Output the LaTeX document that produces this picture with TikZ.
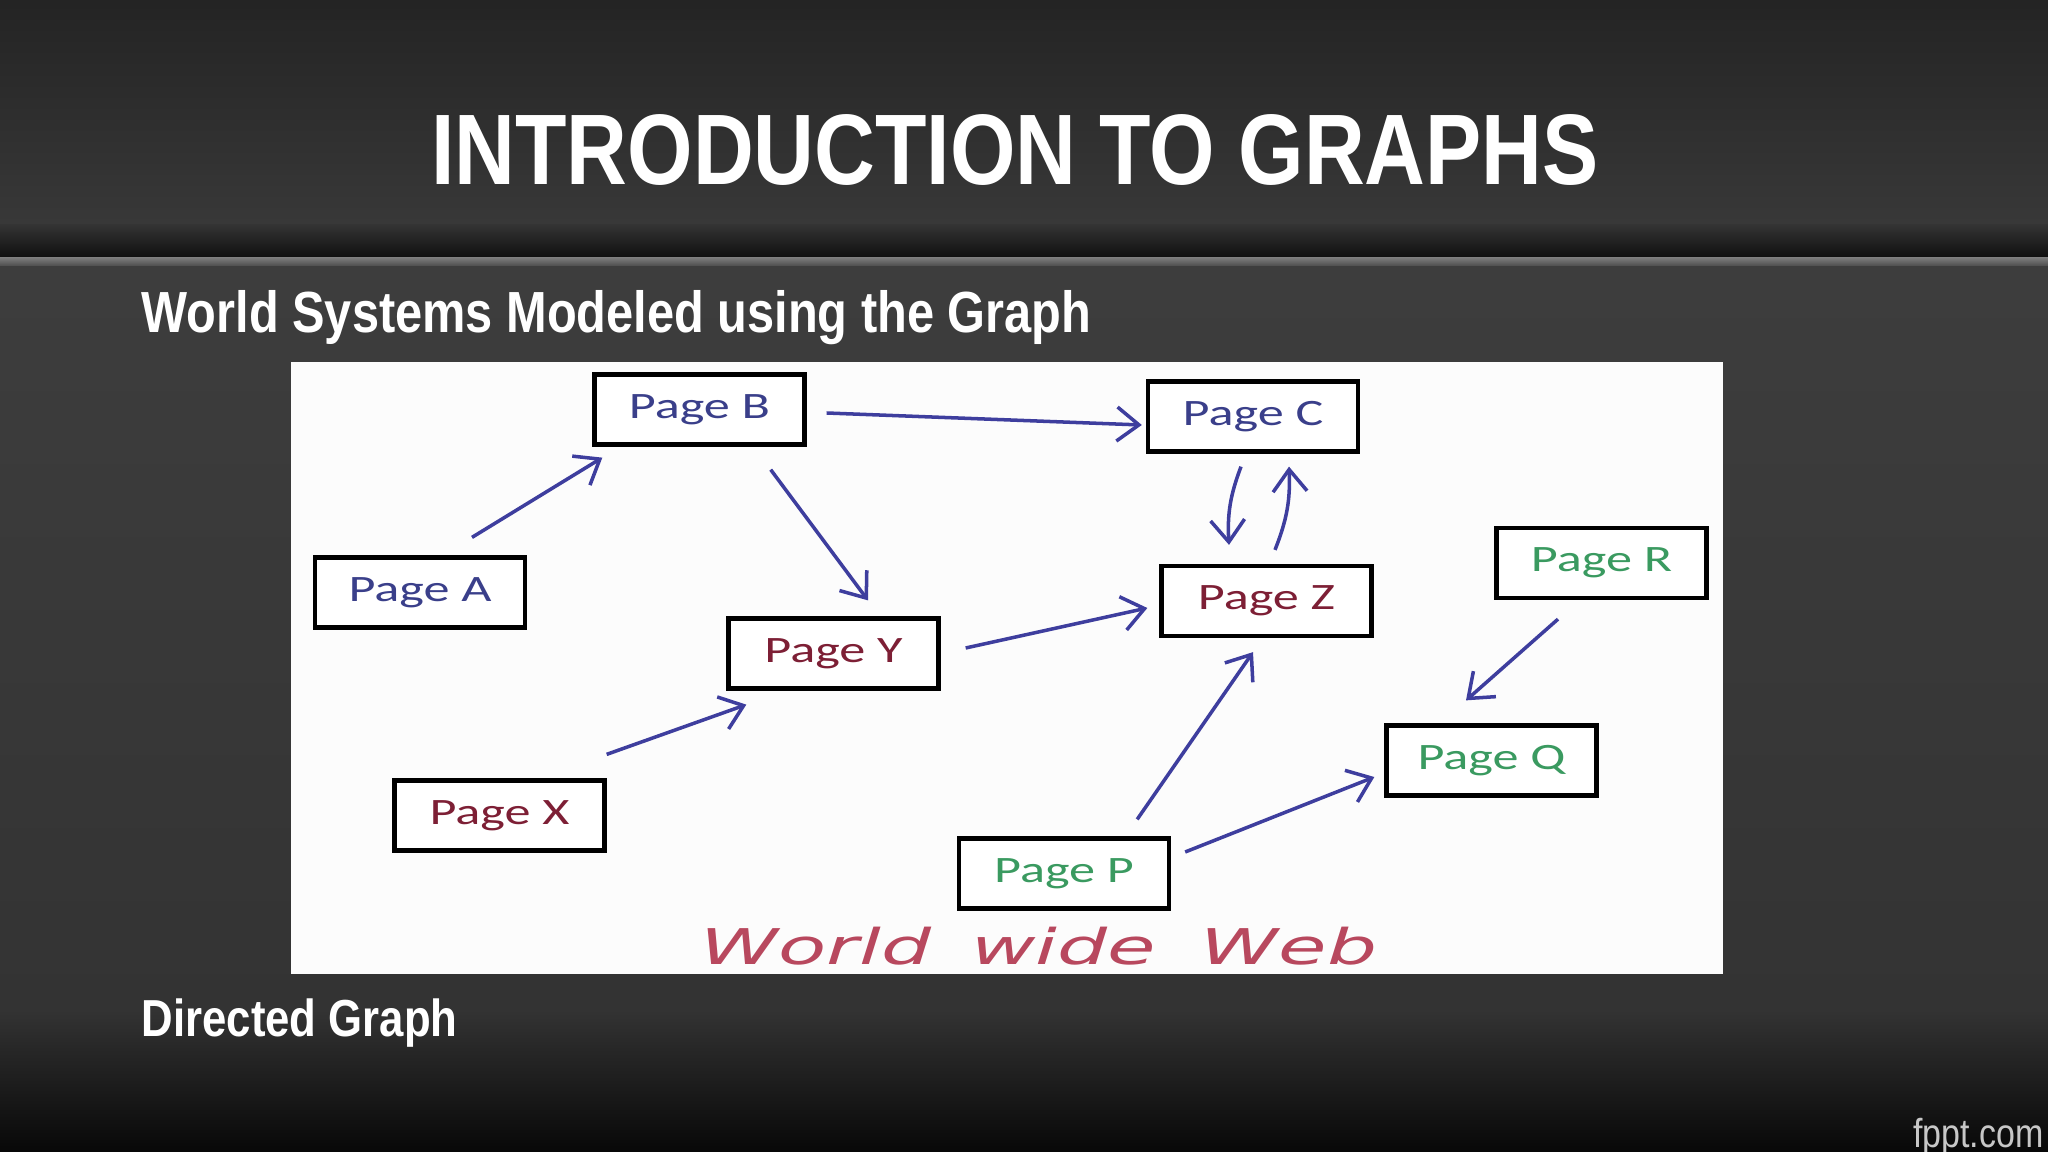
\documentclass[tikz,border=0pt]{standalone}
\usepackage{fontspec}
\usetikzlibrary{arrows.meta,calc}

\newfontfamily\slidefont[FakeStretch=0.84]{Liberation Sans}
\newfontfamily\boxfont[FakeStretch=1.4]{Carlito}
\newfontfamily\handfont[FakeStretch=1.6]{DejaVu Sans}

\definecolor{linkblue}{RGB}{62,62,158}
\definecolor{pageblue}{RGB}{58,63,138}
\definecolor{pagered}{RGB}{125,31,53}
\definecolor{pagegreen}{RGB}{58,154,96}
\definecolor{webpink}{RGB}{184,72,94}

\tikzset{
    page/.style={draw=black, line width=1.2pt, fill=white, inner sep=0pt,
        minimum width=2.1cm, minimum height=0.7cm,
        font=\boxfont\fontsize{10.6}{12}\selectfont},
    link/.style={draw=linkblue, line width=1pt,
        -{Straight Barb[length=2.2mm,width=3.4mm]}},
    slidetext/.style={text=white, inner sep=0pt, font=\slidefont\bfseries}
}

\begin{document}
\begin{tikzpicture}[x=0.01cm, y=-0.01cm]

    % Picture measured in pixels of the 2048 x 1152 slide
    \useasboundingbox (0,0) rectangle (2048,1152);

    % 1. Slide background
    \shade[top color=black!86, bottom color=black!78] (0,0) rectangle (2048,225);
    \shade[top color=black!80, bottom color=black!94] (0,225) rectangle (2048,258);
    \shade[top color=black!52, bottom color=black!72] (0,258) rectangle (2048,267);
    \shade[top color=black!76, bottom color=black!80] (0,267) rectangle (2048,1010);
    \shade[top color=black!80, bottom color=black!97] (0,1010) rectangle (2048,1152);

    % 2. Slide texts
    \node[slidetext, anchor=base, font=\slidefont\bfseries\fontsize{28.5}{30}\selectfont]
        (title) at (1015,185) {INTRODUCTION TO GRAPHS};
    \node[slidetext, anchor=base west, font=\slidefont\bfseries\fontsize{16.5}{18}\selectfont]
        (subtitle) at (141,333) {World Systems Modeled using the Graph};
    \node[slidetext, anchor=base west, font=\slidefont\bfseries\fontsize{14.8}{17}\selectfont]
        (caption) at (141,1036) {Directed Graph};
    \node[anchor=base east, inner sep=0pt, text=black!22, font=\slidefont\fontsize{11.5}{13}\selectfont]
        (fppt) at (2044,1147) {fppt.com};

    % 3. White panel holding the web graph
    \fill[white!99!black] (291,362) rectangle (1723,974);

    % 4. The pages
    \node[page, text=pageblue]  (A) at (420,592.5)   {Page A};
    \node[page, text=pageblue]  (B) at (699.5,409.5) {Page B};
    \node[page, text=pageblue]  (C) at (1253,416.5)  {Page C};
    \node[page, text=pagered]   (Y) at (833.5,653.5) {Page Y};
    \node[page, text=pagered]   (Z) at (1266.5,601)  {Page Z};
    \node[page, text=pagered]   (X) at (499.5,815.5) {Page X};
    \node[page, text=pagegreen] (R) at (1601.5,563)  {Page R};
    \node[page, text=pagegreen] (Q) at (1491.5,760.5) {Page Q};
    \node[page, text=pagegreen] (P) at (1064,873.5)  {Page P};

    % 5. Links between pages (offsets in pixels from the box anchors)
    \draw[link] ($(A.north)+(52,-18)$) -- ($(B.south west)+(10,11)$);
    \draw[link] ($(B.east)+(20,3.5)$) -- ($(C.west)+(-4,8.5)$);
    \draw[link] ($(B.south east)+(-36,23)$) -- ($(Y.north)+(34.5,-16)$);
    \draw[link] ($(C.south)+(-12,13)$) to[bend right=12] ($(Z.north)+(-37.5,-19)$);
    \draw[link] ($(Z.north)+(8.5,-14)$) to[bend right=12] ($(C.south)+(36,13)$);
    \draw[link] ($(Y.east)+(25,-5.5)$) -- ($(Z.west)+(-12,7)$);
    \draw[link] ($(X.north east)+(0,-24)$) -- ($(Y.south west)+(20,14)$);
    \draw[link] ($(P.north east)+(-34,-17)$) -- ($(Z.south)+(-13.5,14)$);
    \draw[link] ($(P.east)+(14,-21.5)$) -- ($(Q.west)+(-10,16.5)$);
    \draw[link] ($(R.south)+(-43.5,19)$) -- ($(Q.north)+(-25.5,-23)$);

    % 6. Hand written name under the graph
    \node[anchor=base west, inner sep=0pt, text=webpink,
        font=\handfont\itshape\fontsize{14}{16}\selectfont]
        (web) at (700,964) {World\hspace{4mm}wide\hspace{4.5mm}Web};

\end{tikzpicture}
\end{document}
